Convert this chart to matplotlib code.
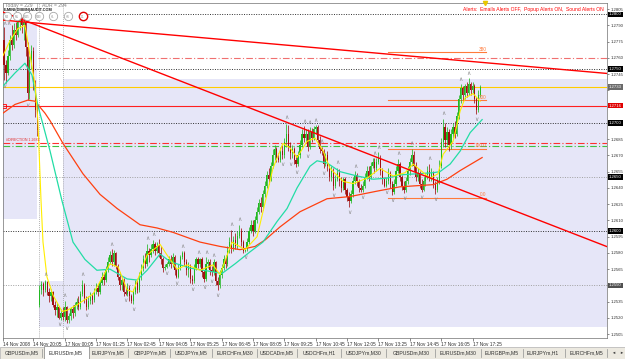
import numpy as np
import matplotlib
matplotlib.use("Agg")
import matplotlib.pyplot as plt
import matplotlib.transforms as mtransforms
from matplotlib.lines import Line2D
from matplotlib.patches import Rectangle

plt.rcParams['font.family'] = ['Liberation Sans', 'DejaVu Sans']

# EURUSDm M5 candles, values in pips above 1.2500
opens = [276, 253, 246, 262, 276, 272, 286, 281, 293, 297,
         290, 293, 270, 228, 258, 266, 235, 212, 32, 46,
         51, 46, 53, 44, 40, 44, 32, 27, 30, 20,
         25, 21, 30, 18, 22, 28, 25, 32, 35, 30,
         42, 50, 38, 30, 36, 40, 37, 45, 48, 44,
         52, 58, 55, 65, 72, 78, 72, 80, 68, 58,
         50, 55, 44, 42, 48, 40, 36, 44, 52, 46,
         58, 66, 74, 70, 82, 78, 84, 88, 82, 86,
         80, 74, 66, 67, 70, 74, 70, 76, 64, 58,
         66, 76, 80, 72, 64, 68, 56, 54, 66, 74,
         70, 74, 62, 56, 70, 72, 64, 62, 72, 54,
         50, 60, 66, 74, 70, 82, 90, 84, 92, 86,
         96, 100, 90, 82, 84, 90, 100, 106, 100, 110,
         118, 126, 122, 134, 142, 152, 148, 160, 170, 176,
         168, 166, 174, 170, 182, 190, 178, 172, 176, 166,
         162, 170, 180, 190, 186, 190, 178, 192, 186, 194,
         196, 184, 176, 174, 162, 170, 160, 150, 156, 142,
         148, 154, 146, 140, 148, 138, 132, 128, 134, 146,
         152, 146, 140, 138, 142, 150, 156, 150, 160, 164,
         158, 164, 168, 156, 148, 142, 146, 154, 144, 136,
         144, 156, 162, 150, 142, 138, 146, 156, 164, 170,
         160, 150, 154, 144, 138, 146, 150, 156, 150, 154,
         144, 138, 146, 160, 182, 196, 184, 192, 180, 190,
         196, 190, 206, 222, 232, 226, 234, 228, 236, 230,
         234, 222, 212, 226]
highs = [288, 258, 267, 281, 290, 292, 293, 297, 299, 298,
         296, 295, 275, 262, 272, 270, 240, 218, 50, 54,
         53, 55, 54, 48, 47, 45, 36, 34, 31, 28,
         30, 36, 31, 25, 30, 32, 35, 38, 40, 45,
         55, 52, 40, 40, 44, 43, 48, 52, 50, 55,
         62, 62, 68, 76, 82, 84, 83, 81, 70, 62,
         58, 57, 48, 52, 50, 42, 47, 55, 55, 62,
         70, 78, 80, 88, 85, 88, 92, 90, 90, 93,
         86, 76, 70, 72, 77, 78, 80, 78, 66, 70,
         78, 82, 82, 74, 72, 70, 60, 70, 76, 76,
         75, 76, 64, 76, 74, 74, 68, 74, 73, 58,
         64, 70, 78, 78, 86, 95, 101, 96, 98, 100,
         106, 103, 92, 85, 94, 104, 110, 110, 114, 122,
         130, 132, 138, 146, 156, 158, 164, 176, 180, 178,
         172, 178, 180, 186, 199, 198, 182, 180, 178, 170,
         174, 184, 194, 197, 194, 194, 196, 195, 197, 198,
         198, 188, 178, 176, 172, 174, 162, 160, 158, 152,
         158, 157, 150, 150, 150, 140, 136, 138, 150, 156,
         154, 148, 144, 146, 154, 160, 160, 164, 168, 168,
         168, 173, 170, 158, 150, 150, 158, 156, 146, 148,
         160, 167, 164, 152, 146, 150, 160, 168, 176, 174,
         164, 158, 156, 148, 150, 154, 160, 162, 158, 156,
         146, 150, 166, 186, 204, 200, 196, 194, 194, 200,
         202, 210, 226, 236, 234, 236, 238, 241, 238, 238,
         236, 224, 230, 235]
lows = [240, 237, 244, 258, 267, 269, 276, 279, 286, 283,
        276, 262, 221, 222, 250, 230, 205, 188, 30, 42,
        40, 44, 41, 35, 36, 30, 23, 21, 19, 18,
        18, 17, 15, 15, 18, 20, 22, 28, 27, 28,
        40, 34, 27, 28, 33, 33, 35, 42, 40, 42,
        50, 50, 53, 62, 70, 68, 68, 65, 55, 46,
        46, 40, 41, 40, 36, 34, 33, 42, 43, 44,
        55, 63, 66, 68, 72, 76, 80, 78, 80, 76,
        70, 62, 64, 66, 68, 66, 67, 60, 57, 57,
        64, 74, 68, 60, 58, 52, 51, 52, 64, 66,
        67, 58, 53, 54, 66, 60, 59, 60, 50, 46,
        48, 57, 64, 66, 68, 80, 80, 82, 84, 84,
        94, 86, 80, 81, 82, 88, 98, 96, 98, 108,
        116, 118, 120, 132, 140, 144, 146, 158, 166, 164,
        164, 164, 167, 168, 178, 174, 167, 168, 162, 159,
        160, 168, 178, 182, 182, 174, 176, 182, 184, 190,
        180, 172, 170, 158, 160, 156, 146, 146, 138, 140,
        146, 142, 136, 138, 134, 128, 122, 126, 132, 144,
        142, 136, 136, 136, 140, 148, 146, 148, 158, 154,
        156, 162, 152, 144, 141, 141, 144, 140, 133, 134,
        142, 154, 146, 138, 135, 136, 144, 152, 160, 156,
        146, 146, 140, 136, 137, 142, 148, 146, 146, 140,
        134, 136, 144, 158, 178, 178, 180, 174, 176, 186,
        186, 188, 204, 218, 220, 222, 224, 226, 226, 228,
        218, 208, 210, 224]
closes = [253, 246, 262, 276, 272, 286, 281, 293, 297, 290,
          293, 270, 228, 258, 266, 235, 212, 193, 46, 51,
          46, 53, 44, 40, 44, 32, 27, 30, 20, 25,
          21, 30, 18, 22, 28, 25, 32, 35, 30, 42,
          50, 38, 30, 36, 40, 37, 45, 48, 44, 52,
          58, 55, 65, 72, 78, 72, 80, 68, 58, 50,
          55, 44, 42, 48, 40, 36, 44, 52, 46, 58,
          66, 74, 70, 82, 78, 84, 88, 82, 86, 80,
          74, 66, 67, 70, 74, 70, 76, 64, 58, 66,
          76, 80, 72, 64, 68, 56, 54, 66, 74, 70,
          74, 62, 56, 70, 72, 64, 62, 72, 54, 50,
          60, 66, 74, 70, 82, 90, 84, 92, 86, 96,
          100, 90, 82, 84, 90, 100, 106, 100, 110, 118,
          126, 122, 134, 142, 152, 148, 160, 170, 176, 168,
          166, 174, 170, 182, 190, 178, 172, 176, 166, 162,
          170, 180, 190, 186, 190, 178, 192, 186, 194, 196,
          184, 176, 174, 162, 170, 160, 150, 156, 142, 148,
          154, 146, 140, 148, 138, 132, 128, 134, 146, 152,
          146, 140, 138, 142, 150, 156, 150, 160, 164, 158,
          164, 168, 156, 148, 142, 146, 154, 144, 136, 144,
          156, 162, 150, 142, 138, 146, 156, 164, 170, 160,
          150, 154, 144, 138, 146, 150, 156, 150, 154, 144,
          138, 146, 160, 182, 196, 184, 192, 180, 190, 196,
          190, 206, 222, 232, 226, 234, 228, 236, 230, 234,
          222, 212, 226, 233]

# fractal arrows: bar index and level (pips)
frac_up_bars = [0, 2, 21, 31, 40, 55, 73, 76, 91, 99, 103, 107, 116, 120, 144,
                153, 156, 159, 162, 170, 179, 189, 191, 201, 208, 217, 224, 233, 237]
frac_up = [292, 292, 60, 41, 60, 88, 93, 97, 86, 80, 80, 78, 106, 111, 205,
           201, 200, 202, 183, 163, 160, 172, 177, 172, 181, 167, 209, 240, 246]
frac_dn_bars = [0, 12, 28, 32, 42, 62, 66, 83, 88, 96, 102, 106, 109, 123, 142,
                146, 149, 155, 163, 168, 176, 183, 195, 198, 204, 213, 220, 241]
frac_dn = [234, 216, 14, 10, 22, 36, 28, 61, 52, 46, 48, 54, 41, 76, 162,
           162, 154, 169, 153, 133, 117, 131, 136, 128, 130, 131, 129, 203]

# moving averages (bar index, pips)
ma_fast_bars = [-0.5, 3.1, 7.1, 10.7, 13.3, 15.8, 17.3, 18.9, 19.9, 21.9, 25, 29.6,
                32.1, 37.2, 45.4, 54.1, 58.2, 62.8, 65.8, 73, 79.6, 83.2, 88.3, 93.4,
                100, 106.6, 110.2, 116.3, 123, 129.1, 132.1, 137.2, 142.3, 145.9,
                149.5, 154.6, 158.7, 162.8, 166.3, 173, 178.1, 185.2, 191.8, 198.5,
                204.6, 208.7, 217.3, 221.4, 224, 229.1, 232.7, 235.2, 239.3, 242.9]
ma_fast = [262, 276, 287, 290, 262, 236, 202, 128, 90, 58, 41, 26,
           27, 32, 42, 70, 67, 46, 44, 78, 88, 78, 65, 69,
           64, 69, 60, 90, 83, 95, 118, 158, 181, 177,
           168, 183, 186, 174, 158, 146, 144, 149, 158, 151,
           154, 162, 149, 153, 171, 183, 211, 223, 227, 220]
ma_mid_bars = [-0.5, 5.6, 10.7, 14.3, 17.3, 23.5, 29.6, 35.2, 41.3, 47.4, 54.1, 62.8,
               67.9, 73, 79.6, 84.7, 94.9, 105.1, 111.2, 117.9, 125.5, 132.1, 139.3,
               144.4, 149.5, 156.1, 159.7, 164.8, 171.4, 180.1, 188.3, 195.4, 202,
               218.9, 222.4, 227.6, 232.7, 237.8, 243.9]
ma_mid = [234, 246, 255, 244, 216, 174, 128, 90, 74, 64, 65, 56,
          55, 64, 79, 72, 66, 63, 61, 70, 81, 90, 109,
          121, 140, 160, 165, 163, 155, 151, 148, 149, 152,
          154, 155, 162, 174, 191, 203]
ma_slow_bars = [-0.5, 5.6, 12.2, 15.8, 20.9, 23.5, 30.1, 40.3, 49, 57.7, 69.4, 78.1,
                86.2, 100, 110.2, 120.4, 128.1, 133.2, 140.8, 151, 164.8, 176.5,
                190.3, 202, 218.9, 226, 232.7, 243.9]
ma_slow = [209, 217, 221, 220, 209, 202, 181, 153, 134, 121, 106, 103,
           99, 90, 86, 83, 86, 92, 104, 118, 130, 132,
           137, 141, 143, 148, 156, 168]

time_ticks = [-0.5, 15, 31, 47, 63, 79, 95, 111, 127, 143, 159, 175, 191, 207, 223, 239]
time_labels = ['14 Nov 2008', '14 Nov 20:05', '17 Nov 00:05', '17 Nov 01:25', '17 Nov 02:45',
               '17 Nov 04:05', '17 Nov 05:25', '17 Nov 06:45', '17 Nov 08:05', '17 Nov 09:25',
               '17 Nov 10:45', '17 Nov 12:05', '17 Nov 13:25', '17 Nov 14:45', '17 Nov 16:05',
               '17 Nov 17:25']

tab_names = ['GBPUSDm,M5', 'EURUSDm,M5', 'EURJPYm,M5', 'GBPJPYm,M5', 'USDJPYm,M5',
             'EURCHFm,M30', 'USDCADm,M5', 'USDCHFm,H1', 'USDJPYm,M30', 'GBPUSDm,M30',
             'EURUSDm,M30', 'EURGBPm,M5', 'EURJPYm,H1', 'EURCHFm,M5']

# price levels
box_levels = [1.2800, 1.2750, 1.2733, 1.2716, 1.2700, 1.2650, 1.2600, 1.2550]
box_colors = ['black', 'black', '#6a6a6a', '#e00000', 'black', 'black', 'black', '#505050']
fib_levels = [1.2631, 1.2676, 1.2721, 1.2765]
fib_labels = ['0.0', '100.0', '200', '380']
trend_steep = [1.28022, 1.25858]
trend_flat = [1.27948, 1.27456]

BASE = 1.25
PIP = 0.0001
W, H = 625, 359

def fx(x):
    return x / W

def fy(y):
    return 1 - y / H

o = BASE + np.array(opens) * PIP
hi = BASE + np.array(highs) * PIP
lo = BASE + np.array(lows) * PIP
c = BASE + np.array(closes) * PIP
x = np.arange(len(c))

fig = plt.figure(figsize=(6.25, 3.59), dpi=100)
fig.patch.set_facecolor('white')
ax = fig.add_axes([fx(3), 21 / H, 604 / W, 335 / H])
ax.set_facecolor('white')
ax.set_xlim(-0.5, 307.6)
ax.set_ylim(1.25015, 1.28106)

LAV = '#e6e6f8'
ax.add_patch(Rectangle((-0.5, 1.2611), 17.3, 1.2793 - 1.2611, fc=LAV, ec='none', zorder=0))
ax.add_patch(Rectangle((17.9, 1.25115), 12.2, 1.25542 - 1.25115, fc=LAV, ec='none', zorder=0))
ax.add_patch(Rectangle((30.1, 1.25115), 278, 1.27409 - 1.25115, fc=LAV, ec='none', zorder=0))

# session separators
for b in [17.9, 30.1]:
    ax.axvline(b, color='#9a9a9a', ls=(0, (1, 1.5)), lw=0.6, zorder=1)

# horizontal levels
dot = (0, (1, 1.5))
ax.axhline(1.2800, xmin=(88 - 3) / 604, color='#303030', ls=dot, lw=0.7, zorder=1)
ax.axhline(1.2750, color='#303030', ls=dot, lw=0.7, zorder=1)
ax.axhline(1.2700, color='#303030', ls=dot, lw=0.7, zorder=1)
ax.axhline(1.2600, color='#303030', ls=dot, lw=0.7, zorder=1)
ax.axhline(1.2650, color='#a0a0a0', ls=dot, lw=0.7, zorder=1)
ax.axhline(1.2550, color='#a0a0a0', ls=dot, lw=0.7, zorder=1)
ax.axhline(1.2760, xmin=35 / 604, color='#f07070', ls=(0, (6, 2, 1, 2)), lw=0.8, zorder=1)
ax.axhline(1.26815, color='#ff3030', ls=(0, (6, 2, 1, 2)), lw=0.8, zorder=1)
ax.axhline(1.2679, color='#40c040', ls=(0, (6, 2, 1, 2)), lw=0.8, zorder=1)
ax.axhline(1.2733, color='#ffcc00', lw=0.8, zorder=1)
ax.axhline(1.2716, color='#ff2020', lw=0.8, zorder=1)
ax.plot([-0.2], [1.2716], marker='s', ms=2.2, mfc='none', mec='red', mew=0.6, zorder=5)
ax.text(1, 1.26815 + 0.00008, '#DIRECTION 1.2682', color='#e03030', fontsize=2.6,
        va='bottom', ha='left', zorder=5)

# fibonacci levels
for lev, lab in zip(fib_levels, fib_labels):
    ax.plot([196, 246], [lev, lev], color='#ff7a3a', lw=0.8, zorder=1)
    ax.text(246, lev + 0.00005, lab, color='#ff7a3a', fontsize=3.4, ha='right', va='bottom', zorder=5)

# candles
BULL, BEAR = '#22b822', '#a01010'
up = c >= o
for m, col in [(up, BULL), (~up, BEAR)]:
    ax.vlines(x[m], lo[m], hi[m], color=col, lw=0.55, zorder=3)
    ax.bar(x[m], np.maximum(np.abs(c - o), 0.00003)[m], bottom=np.minimum(o, c)[m],
           width=0.62, color=col, linewidth=0, zorder=3)

# moving averages
ax.plot(ma_slow_bars, BASE + np.array(ma_slow) * PIP, color='#ff4010', lw=0.9, zorder=4)
ax.plot(ma_mid_bars, BASE + np.array(ma_mid) * PIP, color='#22dda5', lw=0.9, zorder=4)
ax.plot(ma_fast_bars, BASE + np.array(ma_fast) * PIP, color='#ffee00', lw=0.8, zorder=4)

# fractals
for b, v in zip(frac_up_bars, frac_up):
    ax.text(b, BASE + v * PIP, '\u2227', color='#8a8a8a', fontsize=4.2, ha='center', va='center', zorder=5)
for b, v in zip(frac_dn_bars, frac_dn):
    ax.text(b, BASE + v * PIP, '\u2228', color='#8a8a8a', fontsize=4.2, ha='center', va='center', zorder=5)

# trend lines
ax.plot([-0.5, 307.6], trend_steep, color='#ff0000', lw=1.0, zorder=6)
ax.plot([-0.5, 307.6], trend_flat, color='#ff0000', lw=1.0, zorder=6)

# axes
for s in ax.spines.values():
    s.set_color('#707070')
    s.set_linewidth(0.5)
ax.yaxis.tick_right()
yt = np.round(np.arange(1.2505, 1.28051, 0.0015), 4)
hidden = [1.2550, 1.2700, 1.2715, 1.2730]   # covered by the level boxes
ax.set_yticks(yt)
ax.set_yticklabels(['' if any(abs(t - h) < 1e-6 for h in hidden) else f'{t:.4f}' for t in yt])
ax.tick_params(axis='y', labelsize=3.1, length=1.5, width=0.4, pad=0.8, colors='#303030')
ax.set_xticks(time_ticks)
ax.set_xticklabels(time_labels)
for t in ax.get_xticklabels():
    t.set_ha('left')
ax.tick_params(axis='x', labelsize=3.4, length=2, width=0.4, pad=1.0, colors='#303030')

tr = mtransforms.blended_transform_factory(ax.transAxes, ax.transData)
for lev, col in zip(box_levels, box_colors):
    ax.text(1.0035, lev, f'{lev:.4f}', transform=tr, color='white', fontsize=3.1,
            va='center', ha='left', clip_on=False, zorder=10,
            bbox=dict(boxstyle='square,pad=0.2', fc=col, ec='none'))

# header texts
fig.text(fx(5), fy(5), 'Today = 229   |   ADR = 294', color='#808080', fontsize=3.6, va='center')
for i, (cx, lab) in enumerate(zip([7, 17, 27, 39, 53, 68, 83], ['M1', 'M5', 'M15', 'M30', 'H1', 'H4', 'D1'])):
    col = '#e00000' if i == 6 else '#a8a8a8'
    fig.add_artist(Line2D([fx(cx)], [fy(15.5)], marker='o', ms=6, mfc='white',
                          mec=col, mew=1.0 if i == 6 else 0.6, ls='none'))
    fig.text(fx(cx), fy(17), lab, color='#909090', fontsize=2.0, ha='center', va='center')
fig.text(fx(4), fy(10.5), 'E-MINI(DIBBN)AUDIT.COM', color='#202020', fontsize=2.8,
         fontweight='bold', va='center')
fig.text(fx(604), fy(9), 'Alerts:  Emails Alerts OFF,  Popup Alerts ON,  Sound Alerts ON',
         color='#ff0000', fontsize=3.6, ha='right', va='center')
fig.add_artist(Line2D([fx(485)], [fy(2.5)], marker='v', ms=3, color='#e8c800', ls='none'))

# tab bar
fig.add_artist(Rectangle((0, 0), 1, fy(347), transform=fig.transFigure, fc='#ece9e0',
                         ec='#a0a0a0', lw=0.4))
fig.add_artist(Rectangle((fx(44), 0), fx(45), fy(346), transform=fig.transFigure,
                         fc='white', ec='#808080', lw=0.5))
tab_x = [22, 66, 108, 150, 191, 235, 277, 319, 364, 411, 458, 502, 543, 587]
seps = [42, 128, 170, 212, 257, 297, 341, 386, 435, 481, 523, 565, 607]
for name, tx in zip(tab_names, tab_x):
    fig.text(fx(tx), fy(352.5), name, fontsize=3.7, color='#303030', ha='center', va='center')
for sx in seps:
    fig.add_artist(Line2D([fx(sx), fx(sx)], [fy(349), fy(357)], color='#909090', lw=0.5))
fig.text(fx(613), fy(352.5), '\u25c4', fontsize=3, color='#404040', ha='center', va='center')
fig.text(fx(621), fy(352.5), '\u25ba', fontsize=3, color='#404040', ha='center', va='center')

fig.savefig('out.png', dpi=100)
